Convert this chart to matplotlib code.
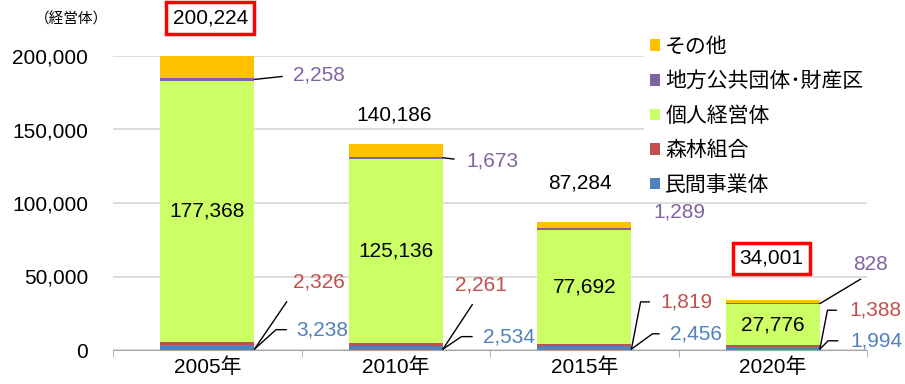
import matplotlib
matplotlib.use('Agg')
import matplotlib.pyplot as plt
import numpy as np

plt.rcParams['font.family'] = ['Liberation Sans', 'Noto Sans CJK JP']

years = ['2005年', '2010年', '2015年', '2020年']
series_names = ['民間事業体', '森林組合', '個人経営体', '地方公共団体･財産区', 'その他']
minkan = [3238, 2534, 2456, 1994]
shinrin = [2326, 2261, 1819, 1388]
kojin = [177368, 125136, 77692, 27776]
chiho = [2258, 1673, 1289, 828]
totals = [200224, 140186, 87284, 34001]
sonota = [t - a - b - c - d for t, a, b, c, d in zip(totals, minkan, shinrin, kojin, chiho)]

colors = ['#4F81BD', '#C0504D', '#CCFF66', '#8064A2', '#FFC000']
label_colors = {'minkan': '#4F81BD', 'shinrin': '#C0504D', 'chiho': '#8064A2'}

fig = plt.figure(figsize=(9.05, 3.84), dpi=100)
ax = fig.add_axes([0.125, 1 - 350 / 384, 0.833, (350 - 56) / 384])

x = np.arange(len(years))
w = 0.5
bottom = np.zeros(len(years))
stack = [minkan, shinrin, kojin, chiho, sonota]
bars = []
for vals, name, c in zip(stack, series_names, colors):
    ax.bar(x, vals, w, bottom=bottom, color=c, label=name, zorder=3, clip_on=False)
    bars.append((np.array(vals), bottom.copy()))
    bottom += np.array(vals)

ax.set_xlim(-0.5, 3.5)
ax.set_ylim(0, 200000)
ax.set_yticks([0, 50000, 100000, 150000, 200000])
ax.set_yticklabels(['0', '50,000', '100,000', '150,000', '200,000'], fontsize=15)
ax.set_xticks(x)
ax.set_xticklabels(years, fontsize=15)
ax.set_xticks([-0.5, 0.5, 1.5, 2.5, 3.5], minor=True)
ax.tick_params(axis='y', length=0, pad=18)
ax.tick_params(axis='x', which='major', length=0, pad=5)
ax.tick_params(axis='x', which='minor', length=5, color='#A6A6A6')
ax.grid(axis='y', color='#D9D9D9', linewidth=1.3, zorder=0)
for s in ['top', 'right', 'left']:
    ax.spines[s].set_visible(False)
ax.spines['bottom'].set_color('#A6A6A6')
ax.spines['bottom'].set_zorder(4)

fig.text(0.038, 0.948, '（経営体）', fontsize=10.5, ha='left', va='center')

FS = 15

# 個人経営体 values inside the green segment
kv, kb = bars[2]
for i in range(len(years)):
    ax.text(x[i], kb[i] + kv[i] / 2, f'{kv[i]:,}', ha='center', va='center',
            fontsize=FS, zorder=5)

# totals above each bar
total_offsets = [27, 21, 28, 30]
total_dx = [2, -1, -3, -1]
boxed = [True, False, False, True]
for i in range(len(years)):
    kw = {}
    if boxed[i]:
        kw['bbox'] = dict(boxstyle='square,pad=0.3', facecolor='white',
                          edgecolor='#FF0000', linewidth=2.5)
    ax.annotate(f'{totals[i]:,}', xy=(x[i], totals[i]), xytext=(total_dx[i], total_offsets[i]),
                textcoords='offset points', ha='center', va='center', fontsize=FS,
                annotation_clip=False, **kw)

edge = w / 2


def side_label(i, seg, text_xy, color, conn, relpos, shrink=4, draw_line=True):
    vals, bots = bars[seg]
    y = bots[i] + vals[i] / 2
    if seg in (0, 1):
        y = 600
    arrow = None
    if draw_line:
        arrow = dict(arrowstyle='-', color='black', lw=1, connectionstyle=conn,
                     relpos=relpos, shrinkA=shrink, shrinkB=0)
    ax.annotate(f'{vals[i]:,}', xy=(x[i] + edge, y), xytext=text_xy,
                textcoords='offset points', ha='left', va='center', fontsize=FS,
                color=color, arrowprops=arrow, annotation_clip=False, zorder=6)


# offsets in points from the right edge of each bar
# 民間事業体 (blue)
side_label(0, 0, (30, 14), label_colors['minkan'], 'angle,angleA=0,angleB=42,rad=0', (0, 0.5), 5)
side_label(1, 0, (29, 9), label_colors['minkan'], 'angle,angleA=0,angleB=34,rad=0', (0, 0.5), 6)
side_label(2, 0, (28, 11), label_colors['minkan'], 'angle,angleA=0,angleB=36,rad=0', (0, 0.5), 6)
side_label(3, 0, (22, 6), label_colors['minkan'], 'angle,angleA=0,angleB=45,rad=0', (0, 0.5), 7)
# 森林組合 (red)
side_label(0, 1, (28, 48), label_colors['shinrin'], 'arc3,rad=0', (0, 0), 6)
side_label(1, 1, (9, 46), label_colors['shinrin'], 'arc3,rad=0', (0.45, 0), 6)
side_label(2, 1, (21, 34), label_colors['shinrin'], 'angle,angleA=0,angleB=79,rad=0', (0, 0.5), 6)
side_label(3, 1, (21, 28), label_colors['shinrin'], 'angle,angleA=0,angleB=79,rad=0', (0, 0.5), 7)
# 地方公共団体・財産区 (purple)
side_label(0, 3, (28, 3), label_colors['chiho'], 'arc3,rad=0', (0, 0.5), 6)
side_label(1, 3, (17, -2), label_colors['chiho'], 'arc3,rad=0', (0, 0.5), 7)
side_label(2, 3, (16, 12), label_colors['chiho'], 'arc3,rad=0', (0, 0.5), 0, draw_line=False)
side_label(3, 3, (24, 28), label_colors['chiho'], 'arc3,rad=0', (0.45, 0), 3)

handles, labels = ax.get_legend_handles_labels()
leg = ax.legend(handles[::-1], labels[::-1], loc='upper left', bbox_to_anchor=(0.69, 1.12),
                fontsize=FS, frameon=True, facecolor='white', edgecolor='white', framealpha=1,
                handlelength=0.48, handleheight=0.48, handletextpad=0.25, labelspacing=0.72,
                borderpad=0.3)
leg.set_zorder(2)

fig.savefig('out.png', dpi=100)
